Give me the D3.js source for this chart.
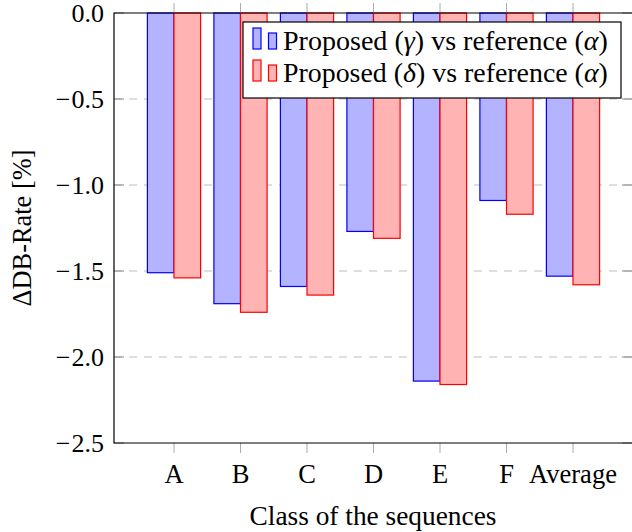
<!DOCTYPE html>
<html>
<head>
<meta charset="utf-8">
<script src="https://cdn.jsdelivr.net/npm/d3@7"></script>
<style>
  body { margin: 0; background: #fff; }
</style>
</head>
<body>
<div id="chart"></div>
<script>
// categories and the two series (values in %)
const categories = ["A", "B", "C", "D", "E", "F", "Average"];
const gammaVals = [-1.51, -1.69, -1.59, -1.27, -2.14, -1.09, -1.53];
const deltaVals = [-1.54, -1.74, -1.64, -1.31, -2.16, -1.17, -1.58];
const yTicks = [0, -0.5, -1.0, -1.5, -2.0, -2.5];
const seriesGreek = ["\u03b3", "\u03b4"];

let width = 632,
    height = 532;
let pLeft = 114, pRight = 632, pTop = 13, pBottom = 443;
let serif = "'Liberation Serif', 'Times New Roman', Times, serif";

let svg = d3.select("div#chart").append("svg")
  .attr("width", width)
  .attr("height", height)
  .style("font-family", serif);

// scale a text's font so it spans the wanted width
function fitText(sel, base, target) {
  sel.style("font-size", base + "px");
  let w = sel.node().getComputedTextLength();
  sel.style("font-size", (base * target / w) + "px");
}

let x = d3.scalePoint().domain(categories).range([174, 573]);
let y = d3.scaleLinear().domain([-2.5, 0]).range([pBottom, pTop]);
let barW = 26.6;

// gridlines
svg.selectAll("line.grid")
  .data(yTicks.filter(d => d !== 0 && d !== -2.5))
  .enter().append("line")
  .attr("class", "grid")
  .attr("x1", pLeft).attr("x2", pRight)
  .attr("y1", d => y(d)).attr("y2", d => y(d))
  .style("stroke", "#bdbdbd")
  .style("stroke-width", 1)
  .style("stroke-dasharray", "8,7");

// y ticks inside (left and right)
yTicks.forEach(t => {
  svg.append("line").attr("x1", pLeft).attr("x2", pLeft + 10)
    .attr("y1", y(t)).attr("y2", y(t))
    .style("stroke", "#888").style("stroke-width", 1);
  svg.append("line").attr("x1", pRight - 10).attr("x2", pRight)
    .attr("y1", y(t)).attr("y2", y(t))
    .style("stroke", "#888").style("stroke-width", 1);
});

// bars
const series = [
  {vals: gammaVals, fill: "#b3b3ff", stroke: "#0000ff", off: -barW},
  {vals: deltaVals, fill: "#ffb3b3", stroke: "#ff0000", off: 0}
];
series.forEach(s => {
  svg.append("g").selectAll("rect")
    .data(categories)
    .enter().append("rect")
    .attr("x", d => x(d) + s.off)
    .attr("y", y(0))
    .attr("width", barW)
    .attr("height", (d, i) => y(s.vals[i]) - y(0))
    .style("fill", s.fill)
    .style("stroke", s.stroke)
    .style("stroke-width", 1.2);
});

// x ticks outside (bottom and top)
categories.forEach(c => {
  svg.append("line").attr("x1", x(c)).attr("x2", x(c))
    .attr("y1", pBottom).attr("y2", pBottom + 10)
    .style("stroke", "#aaa").style("stroke-width", 1);
  svg.append("line").attr("x1", x(c)).attr("x2", x(c))
    .attr("y1", pTop - 10).attr("y2", pTop)
    .style("stroke", "#aaa").style("stroke-width", 1);
});

// axis frame
svg.append("path")
  .attr("d", `M${pRight + 0.5},${pTop}H${pLeft}V${pBottom}H${pRight + 0.5}`)
  .style("fill", "none")
  .style("stroke", "#000")
  .style("stroke-width", 1.2);

// tick labels
let yl = svg.selectAll("text.ylab")
  .data(yTicks)
  .enter().append("text")
  .attr("class", "ylab")
  .attr("x", pLeft - 10)
  .attr("y", d => y(d))
  .attr("dy", "0.33em")
  .attr("text-anchor", "end")
  .style("font-size", "26px");
yl.filter(d => d < 0).append("tspan").text("\u2212");
yl.append("tspan")
  .attr("dx", d => d < 0 ? 1 : 0)
  .text(d => d3.format(".1f")(Math.abs(d)));

svg.selectAll("text.xlab")
  .data(categories)
  .enter().append("text")
  .attr("class", "xlab")
  .attr("x", d => x(d))
  .attr("y", 483)
  .attr("text-anchor", "middle")
  .style("font-size", "26.5px")
  .text(d => d);

// axis titles
let xt = svg.append("text")
  .attr("x", (pLeft + pRight) / 2)
  .attr("y", 525)
  .attr("text-anchor", "middle")
  .text("Class of the sequences");
fitText(xt, 26, 247);

let ytl = svg.append("text")
  .attr("transform", `translate(31,${(pTop + pBottom) / 2}) rotate(-90)`)
  .attr("text-anchor", "middle")
  .text("\u0394DB-Rate [%]");
fitText(ytl, 26, 157);

// legend
let lg = svg.append("g");
lg.append("rect")
  .attr("x", 243).attr("y", 22)
  .attr("width", 378).attr("height", 76)
  .style("fill", "#fff")
  .style("stroke", "#000")
  .style("stroke-width", 1.2);
series.forEach((s, i) => {
  let by = 49 + i * 32;
  lg.append("rect").attr("x", 253).attr("y", by - 21).attr("width", 8).attr("height", 21)
    .style("fill", s.fill).style("stroke", s.stroke).style("stroke-width", 1.2);
  lg.append("rect").attr("x", 268.5).attr("y", by - 16).attr("width", 8).attr("height", 16)
    .style("fill", s.fill).style("stroke", s.stroke).style("stroke-width", 1.2);
  let t = lg.append("text")
    .attr("x", 283).attr("y", by + 1);
  t.append("tspan").text("Proposed (");
  t.append("tspan").style("font-style", "italic").text(seriesGreek[i]);
  t.append("tspan").text(") vs reference (");
  t.append("tspan").style("font-style", "italic").text("\u03b1");
  t.append("tspan").text(")");
  fitText(t, 26, 325);
});
</script>
</body>
</html>
